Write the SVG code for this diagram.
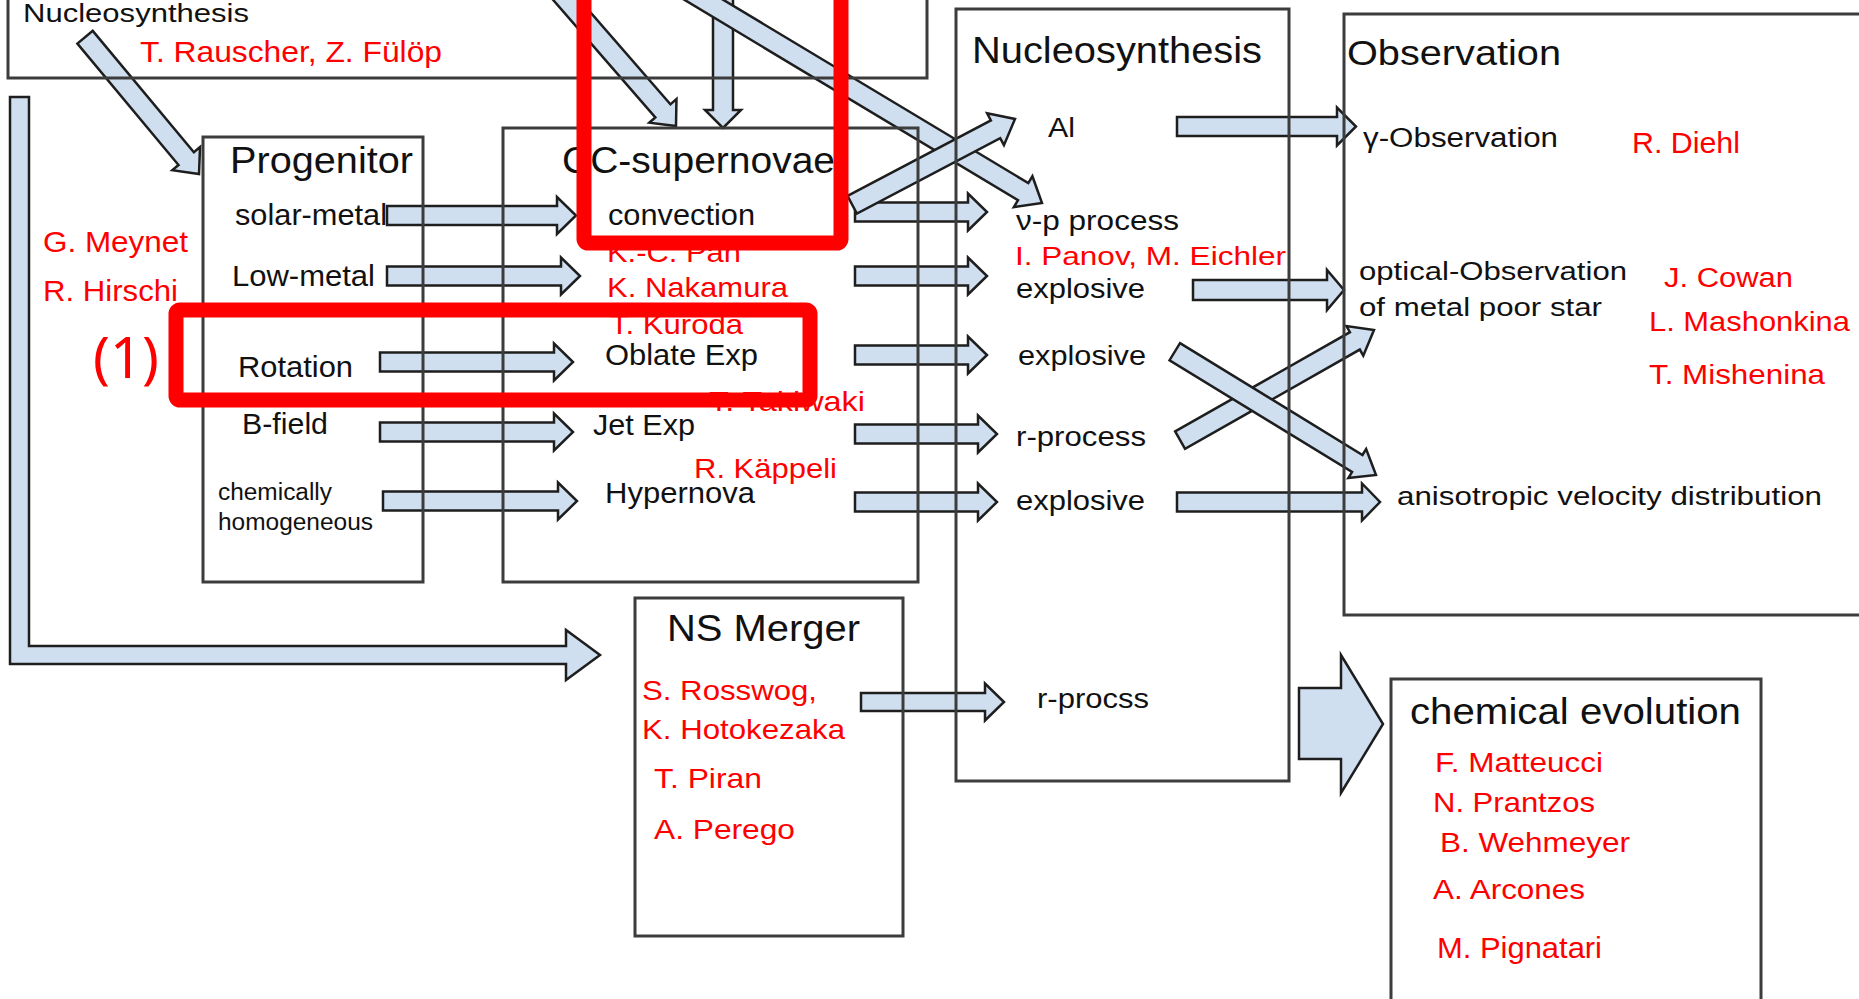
<svg xmlns="http://www.w3.org/2000/svg" width="1859" height="999" viewBox="0 0 1859 999">
<style>
.box{fill:none;stroke:#3c3c3c;stroke-width:3}
.arr{fill:#cfdff0;stroke:#1e1e1e;stroke-width:2.5;stroke-linejoin:miter}
.t{font-family:"Liberation Sans",Arial,sans-serif;fill:#111}
.r{font-family:"Liberation Sans",Arial,sans-serif;fill:#ff0000}
.hl{fill:none;stroke:#ff0000;stroke-width:15}
</style>
<rect width="1859" height="999" fill="#fff"/>
<g id="connectors">
<path class="arr" d="M10,97 H29 V646 H566 V630 L600,655 L566,680 V664 H10 Z"/>
<path class="arr" transform="translate(199,174) rotate(50.2)" d="M-178,-10 H-20 V-18 L0,0 L-20,18 V10 H-178 Z"/>
<path class="arr" transform="translate(676,126) rotate(49)" d="M-200,-10 H-20 V-18 L0,0 L-20,18 V10 H-200 Z"/>
<path class="arr" transform="translate(723,128) rotate(90)" d="M-150,-10 H-18 V-18 L0,0 L-18,18 V10 H-150 Z"/>
<path class="arr" transform="translate(1042,203) rotate(31)" d="M-430,-10 H-22 V-18 L0,0 L-22,18 V10 H-430 Z"/>
<path class="arr" d="M387,206 H557 V197 L576,215.5 L557,234 V225 H387 Z"/>
<path class="arr" d="M387,266.5 H561 V257.5 L580,276 L561,294.5 V285.5 H387 Z"/>
<path class="arr" d="M380,352.5 H554 V343.5 L573,362 L554,380.5 V371.5 H380 Z"/>
<path class="arr" d="M380,422.5 H554 V413.5 L573,432 L554,450.5 V441.5 H380 Z"/>
<path class="arr" d="M383,491.5 H558 V482.5 L577,501 L558,519.5 V510.5 H383 Z"/>
<path class="arr" d="M855,202.5 H968 V193.5 L987,212 L968,230.5 V221.5 H855 Z"/>
<path class="arr" d="M855,266.5 H968 V257.5 L987,276 L968,294.5 V285.5 H855 Z"/>
<path class="arr" d="M855,345.5 H968 V336.5 L987,355 L968,373.5 V364.5 H855 Z"/>
<path class="arr" d="M855,424.5 H978 V415.5 L997,434 L978,452.5 V443.5 H855 Z"/>
<path class="arr" d="M855,492.5 H978 V483.5 L997,502 L978,520.5 V511.5 H855 Z"/>
<path class="arr" transform="translate(1015,119) rotate(-27.8)" d="M-184,-10 H-22 V-18 L0,0 L-22,18 V10 H-184 Z"/>
<path class="arr" d="M861,693 H985 V683.5 L1004,702 L985,720.5 V711 H861 Z"/>
<path class="arr" d="M1177,117 H1337 V107.5 L1356,126.5 L1337,145.5 V136 H1177 Z"/>
<path class="arr" d="M1193,280 H1327 V270 L1344,290 L1327,310 V300 H1193 Z"/>
<path class="arr" transform="translate(1374,330) rotate(-29.6)" d="M-223,-10 H-22 V-17 L0,0 L-22,17 V10 H-223 Z"/>
<path class="arr" transform="translate(1376,475) rotate(31.5)" d="M-236,-10 H-22 V-17 L0,0 L-22,17 V10 H-236 Z"/>
<path class="arr" d="M1177,492.5 H1362 V483.5 L1380,502 L1362,520.5 V511.5 H1177 Z"/>
<path class="arr" d="M1299,688 H1341 V655 L1383,724 L1341,793 V759 H1299 Z"/>
</g>
<g id="top-nucleosynthesis">
<rect class="box" x="8" y="-10" width="919" height="88"/>
<text class="t" x="23" y="22" font-size="25" textLength="226" lengthAdjust="spacingAndGlyphs">Nucleosynthesis</text>
<text class="r" x="140" y="62" font-size="29" textLength="302" lengthAdjust="spacingAndGlyphs">T. Rauscher, Z. Fülöp</text>
</g>
<g id="progenitor">
<rect class="box" x="203" y="137" width="220" height="445"/>
<text class="t" x="230" y="173" font-size="36" textLength="183" lengthAdjust="spacingAndGlyphs">Progenitor</text>
<text class="t" x="235" y="225" font-size="29" textLength="152" lengthAdjust="spacingAndGlyphs">solar-metal</text>
<text class="t" x="232" y="286" font-size="29" textLength="143" lengthAdjust="spacingAndGlyphs">Low-metal</text>
<text class="t" x="238" y="377" font-size="29" textLength="115" lengthAdjust="spacingAndGlyphs">Rotation</text>
<text class="t" x="242" y="434" font-size="29" textLength="86" lengthAdjust="spacingAndGlyphs">B-field</text>
<text class="t" x="218" y="500" font-size="23" textLength="114" lengthAdjust="spacingAndGlyphs">chemically</text>
<text class="t" x="218" y="530" font-size="23" textLength="155" lengthAdjust="spacingAndGlyphs">homogeneous</text>
<text class="r" x="43" y="252" font-size="29" textLength="145" lengthAdjust="spacingAndGlyphs">G. Meynet</text>
<text class="r" x="43" y="301" font-size="29" textLength="135" lengthAdjust="spacingAndGlyphs">R. Hirschi</text>
</g>
<g id="cc-supernovae">
<rect class="box" x="503" y="128" width="415" height="454"/>
<text class="t" x="562" y="173" font-size="36" textLength="273" lengthAdjust="spacingAndGlyphs">CC-supernovae</text>
<text class="t" x="608" y="225" font-size="30" textLength="147" lengthAdjust="spacingAndGlyphs">convection</text>
<text class="r" x="607" y="262" font-size="28" textLength="134" lengthAdjust="spacingAndGlyphs">K.-C. Pan</text>
<text class="r" x="607" y="297" font-size="28" textLength="181" lengthAdjust="spacingAndGlyphs">K. Nakamura</text>
<text class="r" x="610" y="334" font-size="28" textLength="133" lengthAdjust="spacingAndGlyphs">T. Kuroda</text>
<text class="t" x="605" y="365" font-size="29" textLength="153" lengthAdjust="spacingAndGlyphs">Oblate Exp</text>
<text class="r" x="709" y="411" font-size="28" textLength="156" lengthAdjust="spacingAndGlyphs">T. Takiwaki</text>
<text class="t" x="593" y="435" font-size="29" textLength="102" lengthAdjust="spacingAndGlyphs">Jet Exp</text>
<text class="r" x="694" y="478" font-size="28" textLength="143" lengthAdjust="spacingAndGlyphs">R. Käppeli</text>
<text class="t" x="605" y="503" font-size="29" textLength="150" lengthAdjust="spacingAndGlyphs">Hypernova</text>
</g>
<g id="nucleosynthesis">
<rect class="box" x="956" y="9" width="333" height="772"/>
<text class="t" x="972" y="63" font-size="36" textLength="290" lengthAdjust="spacingAndGlyphs">Nucleosynthesis</text>
<text class="t" x="1048" y="137" font-size="27" textLength="27" lengthAdjust="spacingAndGlyphs">Al</text>
<text class="t" x="1016" y="230" font-size="27" textLength="163" lengthAdjust="spacingAndGlyphs">ν-p process</text>
<text class="r" x="1015" y="265" font-size="26" textLength="271" lengthAdjust="spacingAndGlyphs">I. Panov, M. Eichler</text>
<text class="t" x="1016" y="298" font-size="27" textLength="129" lengthAdjust="spacingAndGlyphs">explosive</text>
<text class="t" x="1018" y="365" font-size="27" textLength="128" lengthAdjust="spacingAndGlyphs">explosive</text>
<text class="t" x="1016" y="446" font-size="27" textLength="130" lengthAdjust="spacingAndGlyphs">r-process</text>
<text class="t" x="1016" y="510" font-size="27" textLength="129" lengthAdjust="spacingAndGlyphs">explosive</text>
<text class="t" x="1037" y="708" font-size="27" textLength="112" lengthAdjust="spacingAndGlyphs">r-procss</text>
</g>
<g id="observation">
<rect class="box" x="1344" y="14" width="540" height="601"/>
<text class="t" x="1347" y="65" font-size="35" textLength="214" lengthAdjust="spacingAndGlyphs">Observation</text>
<text class="t" x="1363" y="147" font-size="27" textLength="195" lengthAdjust="spacingAndGlyphs">γ-Observation</text>
<text class="r" x="1632" y="153" font-size="29" textLength="108" lengthAdjust="spacingAndGlyphs">R. Diehl</text>
<text class="t" x="1359" y="280" font-size="26" textLength="268" lengthAdjust="spacingAndGlyphs">optical-Observation</text>
<text class="t" x="1359" y="316" font-size="26" textLength="243" lengthAdjust="spacingAndGlyphs">of metal poor star</text>
<text class="r" x="1664" y="287" font-size="27" textLength="129" lengthAdjust="spacingAndGlyphs">J. Cowan</text>
<text class="r" x="1649" y="331" font-size="28" textLength="201" lengthAdjust="spacingAndGlyphs">L. Mashonkina</text>
<text class="r" x="1649" y="384" font-size="28" textLength="176" lengthAdjust="spacingAndGlyphs">T. Mishenina</text>
<text class="t" x="1397" y="505" font-size="26" textLength="425" lengthAdjust="spacingAndGlyphs">anisotropic velocity distribution</text>
</g>
<g id="ns-merger">
<rect class="box" x="635" y="598" width="268" height="338"/>
<text class="t" x="667" y="641" font-size="36" textLength="193" lengthAdjust="spacingAndGlyphs">NS Merger</text>
<text class="r" x="642" y="700" font-size="28" textLength="175" lengthAdjust="spacingAndGlyphs">S. Rosswog,</text>
<text class="r" x="642" y="739" font-size="28" textLength="203" lengthAdjust="spacingAndGlyphs">K. Hotokezaka</text>
<text class="r" x="654" y="788" font-size="28" textLength="108" lengthAdjust="spacingAndGlyphs">T. Piran</text>
<text class="r" x="654" y="839" font-size="28" textLength="141" lengthAdjust="spacingAndGlyphs">A. Perego</text>
</g>
<g id="chemical-evolution">
<rect class="box" x="1391" y="679" width="370" height="331"/>
<text class="t" x="1410" y="724" font-size="36" textLength="331" lengthAdjust="spacingAndGlyphs">chemical evolution</text>
<text class="r" x="1435" y="772" font-size="28" textLength="168" lengthAdjust="spacingAndGlyphs">F. Matteucci</text>
<text class="r" x="1433" y="812" font-size="28" textLength="162" lengthAdjust="spacingAndGlyphs">N. Prantzos</text>
<text class="r" x="1440" y="852" font-size="28" textLength="190" lengthAdjust="spacingAndGlyphs">B. Wehmeyer</text>
<text class="r" x="1433" y="899" font-size="28" textLength="152" lengthAdjust="spacingAndGlyphs">A. Arcones</text>
<text class="r" x="1437" y="958" font-size="29" textLength="165" lengthAdjust="spacingAndGlyphs">M. Pignatari</text>
</g>
<g id="annotations">
<rect class="hl" x="584" y="-20" width="257" height="263" rx="4"/>
<rect class="hl" x="176" y="310" width="634" height="90" rx="4"/>
<text x="93" y="378" font-family="'Noto Sans','DejaVu Sans',sans-serif" font-size="56" fill="#ff0000" textLength="66" lengthAdjust="spacingAndGlyphs">(1)</text>
</g>
</svg>
